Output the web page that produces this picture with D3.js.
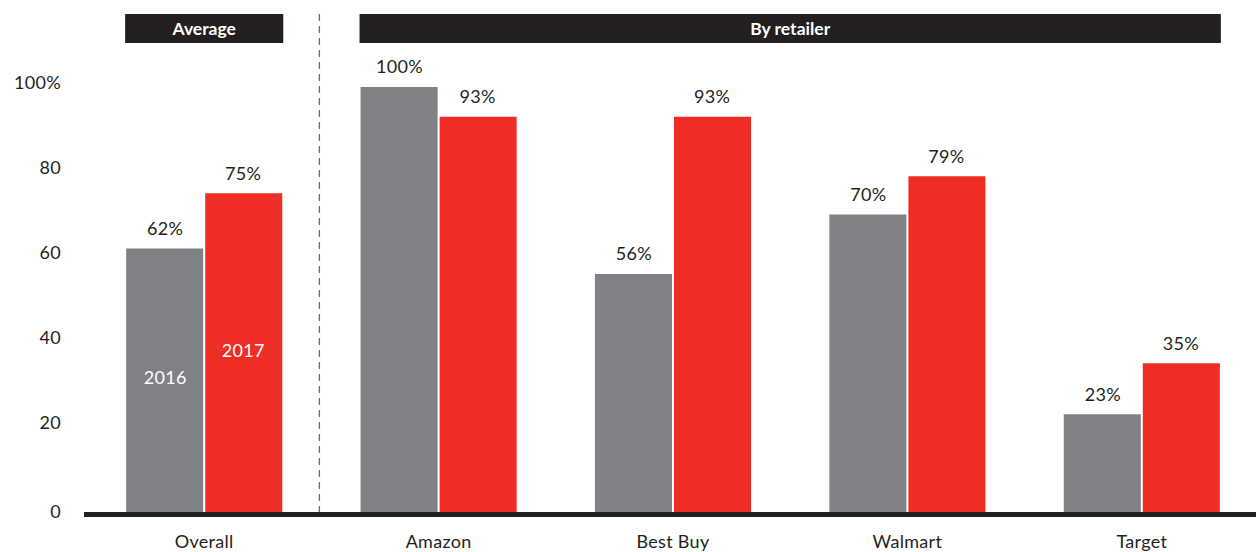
<!DOCTYPE html>
<html>
<head>
<meta charset="utf-8">
<script src="https://cdn.jsdelivr.net/npm/d3@7"></script>
<style>
  body { margin: 0; background: #fff; }
  text { font-family: Lato, "Open Sans", sans-serif; }
</style>
</head>
<body>
<div class="chart"></div>
<script>
const categories = ["Overall", "Amazon", "Best Buy", "Walmart", "Target"];
const series = ["2016", "2017"];
const values2016 = [62, 100, 56, 70, 23];
const values2017 = [75, 93, 93, 79, 35];
const yTicks = [0, 20, 40, 60, 80, 100];
const headers = ["Average", "By retailer"];

const width = 1256, height = 552;
const colors = {"2016": "#808184", "2017": "#ee2e24"};

let svg = d3.select(".chart")
            .append("svg")
            .attr("width", width)
            .attr("height", height);

// x scale for groups
let xScale = d3.scaleBand()
        .domain(categories)
        .range([87, 1259])
        .paddingInner(0.334)
        .paddingOuter(0.167);

let xSub = d3.scaleBand()
        .domain(series)
        .range([0, xScale.bandwidth()]);

let yScale = d3.scaleLinear()
        .domain([0, 100])
        .range([512, 87]);

const data = categories.map(function(c, i){
    return {cat: c, vals: [{s: "2016", v: values2016[i]}, {s: "2017", v: values2017[i]}]};
});

// Y axis labels
svg.append("g")
    .selectAll("text")
    .data(yTicks)
    .enter()
    .append("text")
    .attr("x", 61)
    .attr("y", function(d){ return yScale(d) - (d === 0 ? 0 : 4); })
    .attr("dy", "0.35em")
    .attr("text-anchor", "end")
    .style("font-size", "18px")
    .style("letter-spacing", "0.3px")
    .style("fill", "#231f20")
    .text(function(d){ return d === 100 ? "100%" : d; });

// Bars
let groups = svg.selectAll(".group")
    .data(data)
    .enter()
    .append("g")
    .attr("class", "group")
    .attr("transform", function(d){ return "translate(" + xScale(d.cat) + ",0)"; });

groups.selectAll("rect")
    .data(function(d){ return d.vals; })
    .enter()
    .append("rect")
    .attr("x", function(d){ return xSub(d.s) + (d.s === "2017" ? 1 : 0); })
    .attr("width", function(d){ return xSub.bandwidth() - 1; })
    .attr("y", function(d){ return yScale(d.v); })
    .attr("height", function(d){ return yScale(0) - yScale(d.v); })
    .attr("fill", function(d){ return colors[d.s]; });

// value labels
groups.selectAll(".val")
    .data(function(d){ return d.vals; })
    .enter()
    .append("text")
    .attr("class", "val")
    .attr("x", function(d){ return xSub(d.s) + xSub.bandwidth() / 2; })
    .attr("y", function(d){ return yScale(d.v) - 20; })
    .attr("dy", "0.35em")
    .attr("text-anchor", "middle")
    .style("font-size", "18px")
    .style("letter-spacing", "0.3px")
    .style("fill", "#231f20")
    .text(function(d){ return d.v + "%"; });

// series labels inside the Overall bars
const first = data[0];
svg.append("g")
    .selectAll("text")
    .data(first.vals)
    .enter()
    .append("text")
    .attr("x", function(d){ return xScale(first.cat) + xSub(d.s) + xSub.bandwidth() / 2; })
    .attr("y", function(d){ return d.s === "2016" ? 378 : 351; })
    .attr("dy", "0.35em")
    .attr("text-anchor", "middle")
    .style("font-size", "18px")
    .style("letter-spacing", "0.3px")
    .style("fill", "#fff")
    .text(function(d){ return d.s; });

// category labels
svg.append("g")
    .selectAll("text")
    .data(categories)
    .enter()
    .append("text")
    .attr("x", function(d){ return xScale(d) + xScale.bandwidth() / 2; })
    .attr("y", 542)
    .attr("dy", "0.35em")
    .attr("text-anchor", "middle")
    .style("font-size", "18px")
    .style("letter-spacing", "0.3px")
    .style("fill", "#231f20")
    .text(function(d){ return d; });

// baseline
svg.append("line")
    .attr("x1", 84)
    .attr("x2", width)
    .attr("y1", yScale(0) + 2.5)
    .attr("y2", yScale(0) + 2.5)
    .attr("stroke", "#231f20")
    .attr("stroke-width", 5);

// dashed divider
const divX = (xScale("Overall") + xScale.bandwidth() + xScale("Amazon")) / 2 - 2;
svg.append("line")
    .attr("x1", divX)
    .attr("x2", divX)
    .attr("y1", 14)
    .attr("y2", yScale(0))
    .attr("stroke", "#6d6e71")
    .attr("stroke-width", 1.3)
    .attr("stroke-dasharray", "7,5");

// header boxes
const headerSpans = [
    [xScale("Overall") - 1, xScale("Overall") + xScale.bandwidth() + 1],
    [xScale("Amazon") - 1, xScale("Target") + xScale.bandwidth() + 1]
];
let hdr = svg.selectAll(".hdr")
    .data(headers)
    .enter()
    .append("g")
    .attr("class", "hdr");
hdr.append("rect")
    .attr("x", function(d, i){ return headerSpans[i][0]; })
    .attr("width", function(d, i){ return headerSpans[i][1] - headerSpans[i][0]; })
    .attr("y", 14)
    .attr("height", 29)
    .attr("fill", "#231f20");
hdr.append("text")
    .attr("x", function(d, i){ return (headerSpans[i][0] + headerSpans[i][1]) / 2; })
    .attr("y", 28.5)
    .attr("dy", "0.35em")
    .attr("text-anchor", "middle")
    .style("font-size", "17.5px")
    .style("font-weight", "bold")
    .style("fill", "#fff")
    .text(function(d){ return d; });
</script>
</body>
</html>
